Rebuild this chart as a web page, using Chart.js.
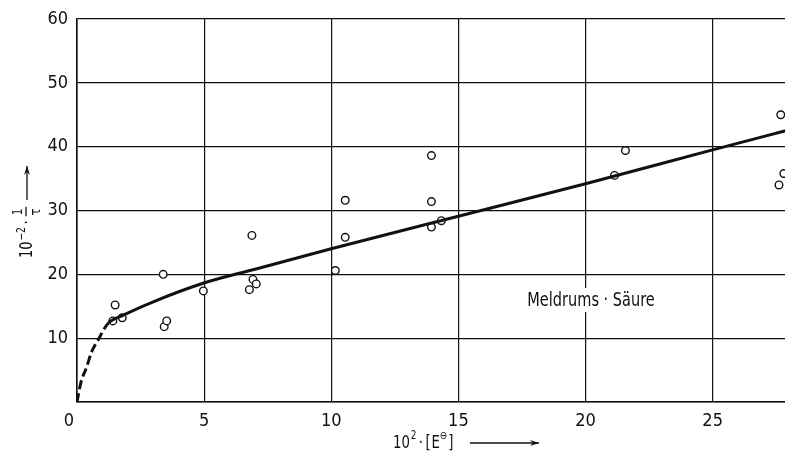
<!DOCTYPE html>
<html><head><meta charset="utf-8">
<script src="https://cdn.jsdelivr.net/npm/chart.js@4/dist/chart.umd.min.js"></script>
<style>html,body{margin:0;padding:0;background:#fff;overflow:hidden;width:785px;height:452px}#wrap{width:791px;height:452px;position:relative}</style>
</head><body><div id="wrap"><canvas id="c"></canvas></div>
<script>
// ---- data ----
const xTicks = [0, 5, 10, 15, 20, 25];
const yTicks = [0, 10, 20, 30, 40, 50, 60];
const pointX = [1.41, 1.50, 1.78, 3.39, 3.43, 3.53, 4.97, 6.78, 6.88, 6.92, 7.05, 10.16, 10.55, 10.55, 13.94, 13.94, 13.94, 14.33, 21.14, 21.57, 27.68, 27.80, 27.61];
const pointY = [12.7, 15.2, 13.2, 20.0, 11.8, 12.7, 17.4, 17.6, 26.1, 19.2, 18.5, 20.6, 31.6, 25.8, 38.6, 31.4, 27.4, 28.4, 35.5, 39.4, 45.0, 35.8, 34.0];
const curveX = [0, 0.15, 0.38, 0.58, 0.84, 1.22, 1.82, 3, 4.96, 7, 10, 15, 20, 25, 27.87];
const curveY = [0, 3.0, 5.5, 7.9, 9.8, 12.3, 13.6, 15.7, 18.6, 20.8, 24.0, 29.1, 34.2, 39.5, 42.5];
const dashedUpTo = 1.22;
const annotationText = "Meldrums \u00b7 S\u00e4ure";
const xMax = 27.87, yMax = 60;

const FONT = '"Liberation Sans Narrow", "DejaVu Sans Condensed", "Arial Narrow", sans-serif';
const INK = '#111';

const points = pointX.map((x, i) => ({x, y: pointY[i]}));
const curve = curveX.map((x, i) => ({x, y: curveY[i]}));

function arrow(ctx, x1, y1, x2, y2) {
  ctx.beginPath(); ctx.moveTo(x1, y1); ctx.lineTo(x2, y2); ctx.stroke();
  const a = Math.atan2(y2 - y1, x2 - x1);
  ctx.beginPath();
  ctx.moveTo(x2, y2);
  ctx.lineTo(x2 - 9 * Math.cos(a) + 3 * Math.sin(a), y2 - 9 * Math.sin(a) - 3 * Math.cos(a));
  ctx.lineTo(x2 - 6 * Math.cos(a), y2 - 6 * Math.sin(a));
  ctx.lineTo(x2 - 9 * Math.cos(a) - 3 * Math.sin(a), y2 - 9 * Math.sin(a) + 3 * Math.cos(a));
  ctx.closePath(); ctx.fill();
}

const textPlugin = {
  id: 'texts',
  afterDraw(chart) {
    const ctx = chart.ctx;
    ctx.save();
    ctx.fillStyle = INK; ctx.strokeStyle = INK; ctx.lineWidth = 1.3;
    ctx.textBaseline = 'alphabetic'; ctx.textAlign = 'left';

    // x-axis title: 10² · [E⊖] ⟶  (slightly condensed to mimic the narrow original type)
    ctx.save();
    ctx.translate(393, 448);
    ctx.scale(0.82, 1);
    let x = 0;
    ctx.font = '18px ' + FONT; ctx.fillText('10', x, 0); x += ctx.measureText('10').width + 1;
    ctx.font = '12px ' + FONT; ctx.fillText('2', x, -9); x += ctx.measureText('2').width + 3;
    ctx.font = '18px ' + FONT; ctx.fillText('\u00b7', x, 0); x += ctx.measureText('\u00b7').width + 3;
    ctx.fillText('[', x, 0); x += ctx.measureText('[').width + 1;
    ctx.fillText('E', x, 0); x += ctx.measureText('E').width;
    ctx.font = '11px "DejaVu Sans", sans-serif'; ctx.fillText('\u2296', x, -9); x += ctx.measureText('\u2296').width + 1;
    ctx.font = '18px ' + FONT; ctx.fillText(']', x, 0); x += ctx.measureText(']').width;
    ctx.restore();
    const endText = 393 + x * 0.82;
    arrow(ctx, Math.max(endText + 14, 470), 443, 539, 443);

    // y-axis title (rotated): 10⁻² · 1/τ ⟶
    ctx.save();
    ctx.translate(32, 258);
    ctx.rotate(-Math.PI / 2);
    ctx.scale(0.85, 1);
    let r = 0;
    ctx.font = '17px ' + FONT; ctx.fillText('10', r, 0); r += ctx.measureText('10').width + 1;
    ctx.font = '12px ' + FONT; ctx.fillText('\u22122', r, -7); r += ctx.measureText('\u22122').width + 3;
    ctx.font = '17px ' + FONT; ctx.fillText('\u00b7', r, 0); r += ctx.measureText('\u00b7').width + 5;
    ctx.font = '14px ' + FONT; ctx.textAlign = 'center';
    ctx.fillText('1', r + 5, -10);
    ctx.beginPath(); ctx.moveTo(r, -6); ctx.lineTo(r + 11, -6); ctx.stroke();
    ctx.font = '14px "DejaVu Sans", sans-serif';
    ctx.fillText('\u03c4', r + 5, 8);
    ctx.restore();
    ctx.save();
    ctx.translate(32, 258);
    ctx.rotate(-Math.PI / 2);
    arrow(ctx, 58, -5, 92, -5);
    ctx.restore();

    // annotation
    ctx.save();
    ctx.font = '19px ' + FONT;
    const w = ctx.measureText(annotationText).width * 0.85;
    const cx = 591, cy = 306;
    ctx.fillStyle = '#fff';
    ctx.fillRect(cx - w / 2 - 3, cy - 18, w + 6, 24);
    ctx.fillStyle = INK;
    ctx.translate(cx, cy);
    ctx.scale(0.85, 1);
    ctx.textAlign = 'center';
    ctx.fillText(annotationText, 0, 0);
    ctx.restore();
    ctx.restore();
  }
};

new Chart(document.getElementById('c'), {
  type: 'scatter',
  data: {
    datasets: [
      {
        label: 'curve', data: curve, showLine: true, pointRadius: 0,
        borderColor: INK, borderWidth: 3, cubicInterpolationMode: 'monotone',
        segment: { borderDash: c => (c.p1.parsed.x <= dashedUpTo + 1e-6 ? [9, 4] : undefined) }
      },
      {
        label: 'points', data: points, showLine: false, pointRadius: 3.8,
        pointBorderWidth: 1.4, pointBorderColor: INK, pointBackgroundColor: '#fff'
      }
    ]
  },
  options: {
    responsive: true, maintainAspectRatio: false, animation: false, devicePixelRatio: 1,
    layout: { padding: { top: 19, right: 0, left: 0, bottom: 0 } },
    plugins: { legend: { display: false }, tooltip: { enabled: false } },
    scales: {
      x: {
        type: 'linear', min: 0, max: xMax,
        afterBuildTicks: s => { s.ticks = xTicks.map(v => ({ value: v })); },
        afterFit: s => { s.height = 50; s.paddingRight = 0; s.paddingLeft = 0; },
        grid: { color: INK, lineWidth: 1.2, drawTicks: false },
        border: { color: INK, width: 1.6 },
        ticks: { color: INK, padding: 9, font: { family: FONT, size: 18 }, maxRotation: 0,
                 callback: v => (v === 0 ? '0\u2003' : String(v)) }
      },
      y: {
        type: 'linear', min: 0, max: yMax,
        afterBuildTicks: s => { s.ticks = yTicks.map(v => ({ value: v })); },
        afterFit: s => { s.width = 77; s.paddingTop = 0; s.paddingBottom = 0; },
        grid: { color: INK, lineWidth: 1.2, drawTicks: false },
        border: { color: INK, width: 1.6 },
        ticks: { color: INK, padding: 9, font: { family: FONT, size: 18 },
                 callback: v => (v === 0 ? '' : String(v)) }
      }
    }
  },
  plugins: [textPlugin]
});
</script></body></html>
